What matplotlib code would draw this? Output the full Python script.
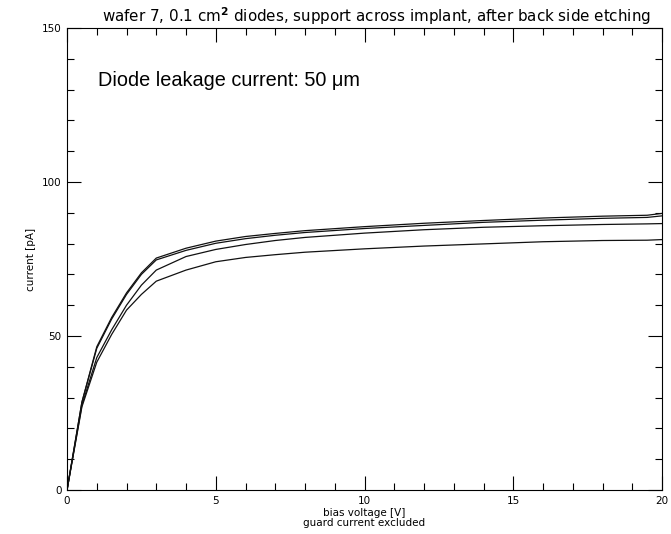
import matplotlib
matplotlib.use("Agg")
import matplotlib.pyplot as plt
from matplotlib.ticker import MultipleLocator

# bias voltage [V]
voltage = [0, 0.5, 1, 1.5, 2, 2.5, 3, 4, 5, 6, 7, 8, 10, 12, 14, 16, 18, 19.5, 20]

# leakage current [pA] of the four diodes
diode_a = [0, 28.5, 46.5, 56.0, 64.0, 70.5, 75.3, 78.5, 80.8, 82.3, 83.3, 84.2, 85.5, 86.6, 87.5, 88.3, 88.9, 89.2, 89.8]
diode_b = [0, 28.5, 46.0, 55.5, 63.5, 70.0, 74.7, 77.8, 80.1, 81.6, 82.7, 83.6, 84.9, 85.9, 86.9, 87.6, 88.2, 88.5, 89.0]
diode_c = [0, 27.5, 43.0, 52.0, 60.0, 66.5, 71.4, 75.8, 78.1, 79.7, 81.0, 82.0, 83.4, 84.5, 85.3, 85.8, 86.2, 86.4, 86.5]
diode_d = [0, 27.0, 41.5, 50.5, 58.4, 63.5, 67.8, 71.4, 74.1, 75.5, 76.4, 77.2, 78.3, 79.2, 79.9, 80.6, 81.0, 81.1, 81.3]

fig = plt.figure(figsize=(6.71, 5.34), dpi=100)
ax = fig.add_axes([0.0999, 0.0824, 0.8867, 0.8652])

for series in (diode_a, diode_b, diode_c, diode_d):
    ax.plot(voltage, series, color="#111111", lw=0.9)

ax.set_xlim(0, 20)
ax.set_ylim(0, 150)
ax.xaxis.set_major_locator(MultipleLocator(5))
ax.xaxis.set_minor_locator(MultipleLocator(1))
ax.yaxis.set_major_locator(MultipleLocator(50))
ax.yaxis.set_minor_locator(MultipleLocator(10))
ax.tick_params(which="both", direction="in", top=True, right=True,
               labelsize=7.5, colors="black", width=0.8, pad=4)
ax.tick_params(which="major", length=10)
ax.tick_params(which="minor", length=5)
for s in ax.spines.values():
    s.set_linewidth(0.8)

ax.set_title("wafer 7, 0.1 cm$^\\mathbf{2}$ diodes, support across implant, after back side etching",
             fontsize=10.9, pad=4, x=0.52)
ax.set_xlabel("bias voltage [V]\nguard current excluded", fontsize=7.5, labelpad=2,
              linespacing=0.95)
ax.set_ylabel("current [pA]", fontsize=7.5, labelpad=4)

ax.text(0.052, 0.875, "Diode leakage current: 50 \u03bcm", transform=ax.transAxes,
        fontsize=14.3, family="Liberation Sans")

fig.savefig("out.png", dpi=100)
